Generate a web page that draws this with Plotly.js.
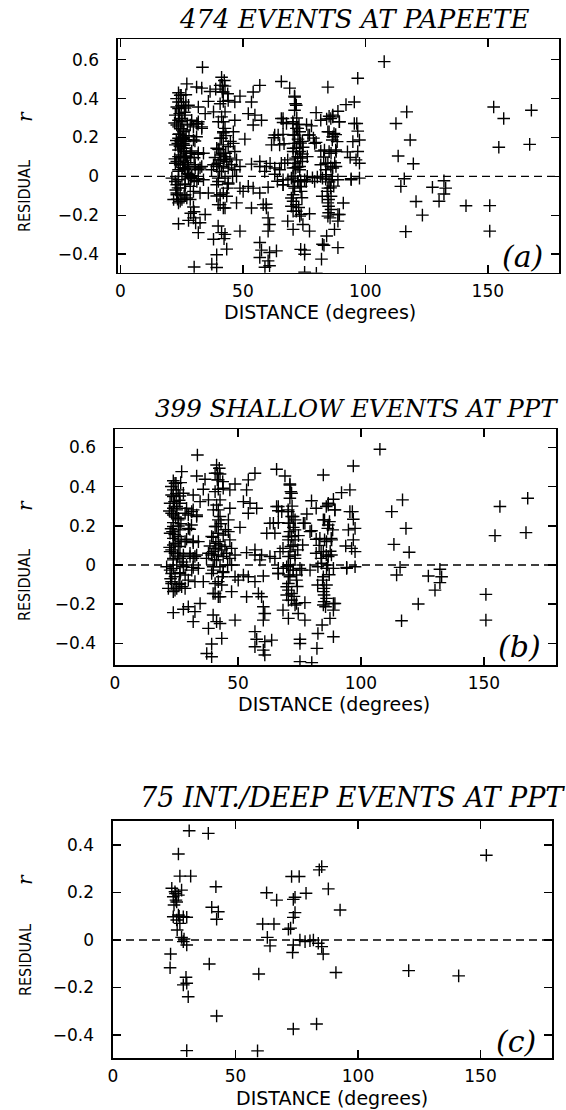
<!DOCTYPE html>
<html>
<head>
<meta charset="utf-8">
<script src="https://cdn.plot.ly/plotly-3.0.1.min.js"></script>
<style>
html,body{margin:0;padding:0;background:#fff;}
#chart{width:566px;height:1110px;}
</style>
</head>
<body>
<div id="chart"></div>
<script>
// ---- DATA ----
// [distance (degrees), residual r]
const shallowEvents = [
[33.5,0.561],[27.1,0.476],[41.3,0.51],[42.4,0.493],[41.6,0.468],[42.7,0.464],
[33.2,0.454],[36.6,0.437],[23.7,0.43],[24.8,0.417],[26.7,0.42],
[41.6,0.434],[43.8,0.425],[48.8,0.413],[54.2,0.434],[56.9,0.468],
[35.9,0.386],[42.0,0.386],[46.7,0.383],[44.0,0.391],
[23.7,0.383],[23.0,0.357],[27.8,0.366],[31.8,0.357],[53.5,0.383],
[24.2,0.323],[26.4,0.315],[34.6,0.323],[38.0,0.332],[41.3,0.306],
[52.2,0.323],[54.9,0.315],
[23.7,0.289],[25.1,0.281],[29.1,0.289],[31.8,0.281],[42.0,0.281],[46.7,0.289],
[54.2,0.264],[57.6,0.289],
[23.7,0.255],[25.8,0.238],[29.8,0.255],[33.2,0.255],[42.7,0.247],[46.1,0.23],
[23.7,0.216],[25.8,0.199],[31.1,0.204],[30.4,0.182],[41.3,0.196],[50.8,0.192],
[23.4,0.17],[26.4,0.179],[42.0,0.162],[44.0,0.153],[46.1,0.17],
[23.7,0.136],[25.8,0.128],[29.1,0.131],[31.8,0.122],[39.9,0.141],[46.7,0.128],
[23.7,0.102],[26.4,0.094],[38.6,0.097],[40.7,0.085],[42.7,0.102],[44.7,0.094],[47.4,0.085],
[22.4,0.068],[24.4,0.06],[27.8,0.051],[30.5,0.043],[33.2,0.051],[38.0,0.06],[39.9,0.068],
[42.0,0.051],[45.4,0.06],[48.8,0.051],[53.5,0.063],[56.9,0.051],
[23.7,0.026],[26.4,0.034],[31.8,0.034],[37.2,0.034],[40.5,0.026],[44.0,0.043],[46.7,0.034],
[21.0,-0.009],[23.7,-0.017],[27.8,-0.009],[31.8,-0.012],[39.9,-0.009],[47.4,0.0],
[23.0,-0.043],[26.4,-0.039],[28.5,-0.051],[39.3,-0.043],[44.0,-0.039],[48.8,-0.06],[52.2,-0.051],
[23.0,-0.085],[26.4,-0.094],[35.9,-0.085],[40.7,-0.094],[43.4,-0.102],[50.1,-0.077],[54.2,-0.06],
[21.7,-0.119],[24.4,-0.128],[27.1,-0.111],[39.9,-0.145],[42.0,-0.162],[47.4,-0.136],[56.9,-0.085],
[53.5,-0.162],[58.3,-0.145],
[34.6,-0.196],[23.7,-0.243],[27.8,-0.226],[29.8,-0.213],[32.5,-0.238],
[31.8,-0.289],[39.9,-0.255],[41.3,-0.289],[42.7,-0.298],[48.8,-0.281],
[38.0,-0.323],[43.4,-0.374],[39.3,-0.403],[37.3,-0.451],[39.3,-0.468],
[56.9,-0.34],[56.9,-0.417],
[96.9,0.505],[84.7,0.459],[65.7,0.488],[69.1,0.454],
[71.1,0.413],[71.5,0.374],[71.1,0.34],
[95.5,0.383],[92.1,0.369],[88.8,0.335],[86.7,0.315],[89.4,0.281],
[79.9,0.328],[81.8,0.289],[85.9,0.298],[66.4,0.298],[66.4,0.277],
[70.5,0.272],[71.8,0.247],[73.2,0.23],[70.5,0.213],[72.5,0.192],[71.1,0.17],[71.8,0.145],[70.5,0.128],[73.2,0.128],
[63.0,0.213],[66.4,0.216],[61.7,0.162],[65.0,0.162],
[78.0,0.26],[77.2,0.213],
[79.9,0.175],[81.8,0.131],[85.2,0.128],[87.9,0.136],
[85.2,0.23],[87.2,0.221],[86.5,0.187],[88.5,0.179],
[96.5,0.272],[96.9,0.233],[97.6,0.187],[96.9,0.128],[97.6,0.068],[93.8,0.097],
[56.9,0.077],[59.6,0.051],[63.0,0.043],[58.9,0.026],
[68.3,0.085],[71.5,0.094],[74.3,0.077],[76.3,0.102],[70.5,0.043],[73.2,0.051],
[81.8,0.06],[83.8,0.068],[85.9,0.051],[88.0,0.051],[83.8,0.034],
[66.4,-0.017],[69.8,-0.009],[72.5,-0.026],[75.2,-0.017],[79.3,-0.026],[82.5,-0.009],
[86.5,0.0],[88.8,-0.017],[94.2,-0.012],[97.6,-0.009],
[60.3,-0.056],[66.4,-0.043],[70.5,-0.051],[73.8,-0.051],
[82.4,-0.102],[84.4,-0.077],[85.0,-0.119],[85.0,-0.153],[85.0,-0.187],[85.6,-0.213],
[70.5,-0.094],[70.5,-0.128],[69.8,-0.153],[71.8,-0.179],[73.8,-0.196],[77.2,-0.192],
[89.4,-0.196],[88.8,-0.23],
[59.6,-0.162],[60.3,-0.213],[60.9,-0.247],[60.3,-0.281],
[68.3,-0.23],[70.5,-0.272],[74.5,-0.247],[77.2,-0.281],
[87.4,-0.272],[84.2,-0.306],[82.5,-0.349],[88.8,-0.366],
[57.6,-0.379],[60.9,-0.391],[63.7,-0.383],[60.3,-0.434],[60.9,-0.459],
[75.2,-0.379],[75.2,-0.4],[82.1,-0.425],[75.2,-0.493],[80.0,-0.498],
[107.7,0.59],[116.9,0.332],[112.5,0.272],[118.3,0.187],[113.4,0.105],[119.6,0.065],
[115.9,-0.012],[114.5,-0.051],
[127.4,-0.056],[132.1,-0.022],[132.8,-0.06],[132.1,-0.09],[130.1,-0.128],[123.3,-0.199],[116.5,-0.284],
[150.8,-0.15],[150.8,-0.281],[156.5,0.298],[154.5,0.15],[167.8,0.34],[167.1,0.165],
[24.4,0.417],[25.7,0.383],[23.7,0.349],[26.4,0.352],[22.4,0.315],[25.1,0.298],[23.0,0.264],
[25.7,0.23],[23.7,0.196],[22.4,0.162],[25.7,0.145],[24.4,0.111],[23.0,0.077],[25.7,0.06],
[23.7,0.034],[25.1,0.0],[22.4,-0.026],[24.4,-0.06],[26.4,-0.043],[23.0,-0.094],[25.1,-0.119],[23.7,-0.136],
[28.5,0.264],[31.2,0.272],[33.2,0.247],[29.8,0.187],[28.5,0.119],[31.8,0.114],[33.9,0.119],
[30.5,0.06],[32.5,0.043],[29.1,0.0],[31.2,-0.026],[33.9,-0.017],[29.8,-0.077],[32.5,-0.085],[28.5,-0.119],
[40.7,0.468],[42.0,0.434],[40.7,0.374],[42.7,0.332],[40.0,0.281],[42.0,0.23],[40.7,0.196],
[39.3,0.145],[42.0,0.119],[40.7,0.085],[43.4,0.077],[39.3,0.051],[41.3,0.026],[42.7,-0.009],
[40.0,-0.026],[44.0,-0.034],[42.0,-0.085],[40.7,-0.145],[42.7,-0.162],
[71.1,0.408],[71.8,0.366],[70.4,0.281],[72.4,0.247],[71.1,0.213],[73.2,0.179],[70.5,0.145],
[72.4,0.102],[71.1,0.068],[73.2,0.034],[70.5,0.0],[72.4,-0.026],[71.1,-0.06],[73.8,-0.077],
[69.8,-0.111],[71.8,-0.145],[70.5,-0.179],[73.2,-0.204],
[65.7,0.298],[67.8,0.272],[64.4,0.213],[67.1,0.068],[65.0,0.034],[68.4,-0.017],[66.4,-0.043],
[75.9,-0.026],[76.6,0.213],[79.3,0.17],
[86.7,0.306],[89.4,0.281],[84.7,0.23],[86.7,0.204],[83.3,0.136],[86.0,0.119],[88.1,0.128],
[84.7,0.068],[86.7,0.043],[84.0,0.009],[86.0,-0.017],[84.7,-0.06],[86.0,-0.102],[84.7,-0.136],
[86.0,-0.17],[84.7,-0.204],[88.8,-0.196],
[95.5,0.272],[94.9,0.179],[96.2,0.085],[94.2,-0.017],
[22.9,0.4],[24.9,0.365],[26.1,0.33],[22.1,0.275],[24.6,0.245],[26.8,0.21],[22.8,0.185],
[24.3,0.155],[26.9,0.12],[22.2,0.09],[25.4,0.045],[27.3,0.015],[22.6,-0.07],[26.0,-0.1],
[43.1,0.21],[44.9,0.18],[41.0,0.11],[45.8,0.0],[43.6,-0.06],
[72.0,0.3],[74.6,0.15],[71.3,0.0],[74.1,-0.11],[72.8,-0.16],
[87.5,0.07],[83.0,0.1],[87.1,-0.05]
];

const deepEvents = [
[31.1,0.46],[38.9,0.449],[26.7,0.362],[27.3,0.269],[31.7,0.269],[42.0,0.224],
[24.0,0.218],[25.3,0.203],[26.7,0.189],[24.6,0.182],[25.7,0.168],[24.9,0.147],[28.0,0.21],
[62.7,0.199],[66.8,0.168],[40.3,0.138],[43.0,0.119],[42.3,0.087],
[24.6,0.098],[26.7,0.105],[28.7,0.098],[30.1,0.096],[26.0,0.084],[27.3,0.07],[26.2,0.042],
[61.1,0.067],[65.7,0.067],[28.0,0.011],[28.7,-0.007],[30.1,-0.021],[63.0,0.011],[64.1,-0.025],
[23.5,-0.059],[23.3,-0.117],[39.3,-0.101],[29.8,-0.157],[30.1,-0.182],[28.7,-0.189],[30.7,-0.239],
[59.5,-0.143],[42.3,-0.32],[30.1,-0.466],[59.0,-0.467],
[72.9,0.267],[76.0,0.267],[84.2,0.295],[85.2,0.309],[73.6,0.171],[74.3,0.18],[78.8,0.197],
[87.9,0.215],[92.7,0.126],[74.3,0.115],[73.6,0.095],[71.6,0.045],
[76.3,0.0],[78.4,-0.007],[80.4,-0.003],[81.8,0.0],[73.6,-0.021],[83.8,-0.014],[85.2,-0.028],
[73.3,-0.053],[85.8,-0.059],[91.0,-0.137],[73.6,-0.375],[83.1,-0.354],
[120.7,-0.129],[141.1,-0.151],[152.4,0.357],
[25.5,0.195],[27.0,0.1],[29.0,0.004],[72.5,0.05],[26.0,0.16]
];

const panelTitles = ["474 EVENTS AT PAPEETE", "399 SHALLOW EVENTS AT PPT", "75 INT./DEEP EVENTS AT PPT"];
const panelLabels = ["(a)", "(b)", "(c)"];
const xTitle = "DISTANCE (degrees)";
const yTitle = "RESIDUAL";
const ySymbol = "r";
const xTicks = [0, 50, 100, 150];
const yTicksWide = [-0.4, -0.2, 0, 0.2, 0.4, 0.6];
const yTicksNarrow = [-0.4, -0.2, 0, 0.2, 0.4];

// ---- build ----
const allEvents = shallowEvents.concat(deepEvents);
const sets = [allEvents, shallowEvents, deepEvents];

const W = 566, H = 1110;
const px = X => X / W;
const py = Y => 1 - Y / H;

// frame geometry of each panel in pixels [left, right, top, bottom]
const frames = [
  [118, 559.3, 39.3, 272.7],
  [115, 556, 429.3, 665],
  [113, 552, 821, 1058]
];
const xRanges = [[-1, 179.2], [0, 179.3], [0, 179.2]];
const yRanges = [[-0.495, 0.705], [-0.51, 0.692], [-0.497, 0.501]];
const yTickSets = [yTicksWide, yTicksWide, yTicksNarrow];

const markerStyle = {
  symbol: 'cross-thin', size: 9, color: '#000',
  line: {color: '#000', width: 1.4}
};

const traces = sets.map((s, i) => ({
  type: 'scatter', mode: 'markers',
  x: s.map(p => p[0]), y: s.map(p => p[1]),
  xaxis: i === 0 ? 'x' : 'x' + (i + 1),
  yaxis: i === 0 ? 'y' : 'y' + (i + 1),
  marker: markerStyle, showlegend: false, hoverinfo: 'skip'
}));

const tickFont = {family: 'DejaVu Sans, Arial, sans-serif', size: 17, color: '#000'};
const layout = {
  width: W, height: H,
  margin: {l: 0, r: 0, t: 0, b: 0},
  paper_bgcolor: '#fff', plot_bgcolor: '#fff',
  showlegend: false,
  annotations: [], shapes: []
};

const titleSizes = [26, 24.5, 27];
const xTitleFont = {family: 'DejaVu Sans, Arial, sans-serif', size: 19, color: '#000'};
const yTitleFont = {family: 'DejaVu Sans Condensed, DejaVu Sans, sans-serif', size: 16, color: '#000'};
const symFont = {family: 'DejaVu Serif, serif', size: 20, color: '#000', style: 'italic'};
const labelFont = {family: 'DejaVu Serif, serif', size: 30, color: '#000', style: 'italic'};

const titlePos = [[354, 18.5], [356, 408.5], [352, 797.5]];
const xTitlePos = [[320, 312], [334, 704], [331.5, 1098]];
const yTitlePos = [[25, 196], [25, 585], [25, 960]];
const symPos = [[25, 117], [25, 506], [25, 880]];
const labelPos = [[522, 257], [519, 646], [516, 1041]];

frames.forEach((f, i) => {
  const xa = i === 0 ? 'xaxis' : 'xaxis' + (i + 1);
  const ya = i === 0 ? 'yaxis' : 'yaxis' + (i + 1);
  const xid = i === 0 ? 'x' : 'x' + (i + 1);
  const yid = i === 0 ? 'y' : 'y' + (i + 1);
  layout[xa] = {
    domain: [px(f[0]), px(f[1])], anchor: yid, range: xRanges[i],
    tickmode: 'array', tickvals: xTicks, ticktext: xTicks.map(String),
    ticks: 'inside', ticklen: 8, tickwidth: 1.5, tickcolor: '#000',
    showline: true, linecolor: '#000', linewidth: 1.6, mirror: 'allticks',
    showgrid: false, zeroline: false, tickfont: tickFont, ticklabelstandoff: 2,
    fixedrange: true
  };
  layout[ya] = {
    domain: [py(f[3]), py(f[2])], anchor: xid, range: yRanges[i],
    tickmode: 'array', tickvals: yTickSets[i],
    ticks: 'inside', ticklen: 8, tickwidth: 1.5, tickcolor: '#000',
    showline: true, linecolor: '#000', linewidth: 1.6, mirror: 'allticks',
    showgrid: false, zeroline: false, tickfont: tickFont, ticklabelstandoff: 14,
    fixedrange: true
  };
  layout.shapes.push({
    type: 'line', xref: xid + ' domain', yref: yid, x0: 0, x1: 1, y0: 0, y1: 0,
    line: {color: '#000', width: 1.4, dash: '8px,5px'}
  });
  layout.annotations.push(
    {text: panelTitles[i], xref: 'paper', yref: 'paper', x: px(titlePos[i][0]), y: py(titlePos[i][1]),
     xanchor: 'center', yanchor: 'middle', showarrow: false,
     font: {family: 'DejaVu Serif, serif', size: titleSizes[i], color: '#000', style: 'italic'}},
    {text: xTitle, xref: 'paper', yref: 'paper', x: px(xTitlePos[i][0]), y: py(xTitlePos[i][1]),
     xanchor: 'center', yanchor: 'middle', showarrow: false, font: xTitleFont},
    {text: yTitle, xref: 'paper', yref: 'paper', x: px(yTitlePos[i][0]), y: py(yTitlePos[i][1]),
     xanchor: 'center', yanchor: 'middle', showarrow: false, textangle: -90, font: yTitleFont},
    {text: ySymbol, xref: 'paper', yref: 'paper', x: px(symPos[i][0]), y: py(symPos[i][1]),
     xanchor: 'center', yanchor: 'middle', showarrow: false, textangle: -90, font: symFont},
    {text: panelLabels[i], xref: 'paper', yref: 'paper', x: px(labelPos[i][0]), y: py(labelPos[i][1]),
     xanchor: 'center', yanchor: 'middle', showarrow: false, font: labelFont}
  );
});

Plotly.newPlot('chart', traces, layout, {staticPlot: true, displayModeBar: false});
</script>
</body>
</html>
